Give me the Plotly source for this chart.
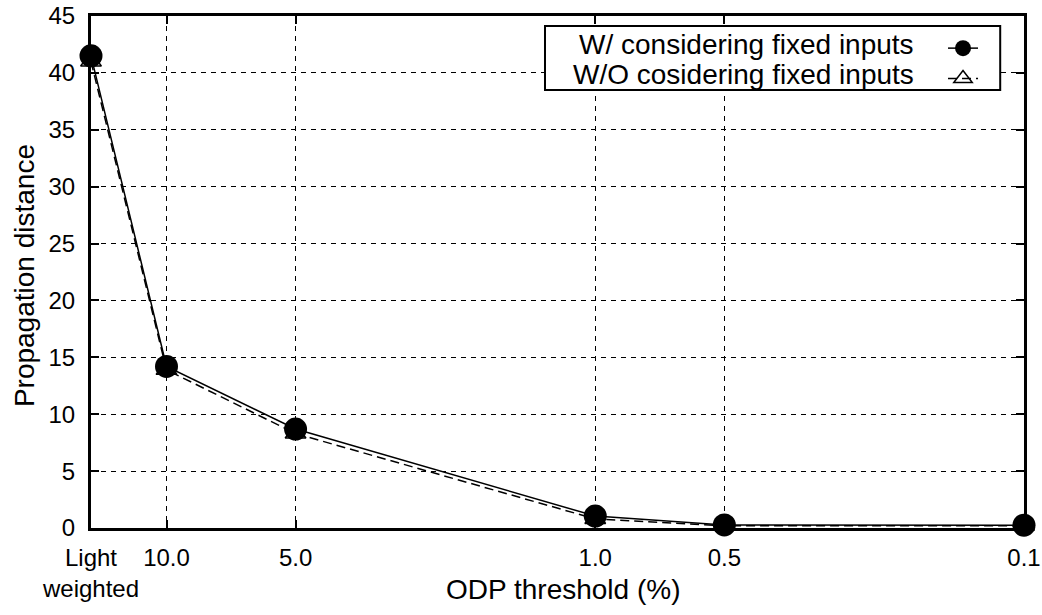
import math
import plotly.graph_objects as go

# ---- data ----
x_labels = ["Light<br>weighted", "10.0", "5.0", "1.0", "0.5", "0.1"]
x_pos = [15, 10, 5, 1, 0.5, 0.1]          # ODP threshold (%) ; "Light weighted" placed at 15
with_fixed = [41.5, 14.2, 8.7, 1.05, 0.27, 0.25]
without_fixed = [41.0, 13.9, 8.3, 0.8, 0.2, 0.2]
y_ticks = [0, 5, 10, 15, 20, 25, 30, 35, 40, 45]
name_with = "W/ considering fixed inputs"
name_without = "W/O cosidering fixed inputs"

FONT = "Liberation Sans, Arial, Helvetica, sans-serif"

fig = go.Figure()
fig.add_trace(go.Scatter(
    x=x_pos, y=without_fixed, mode="lines+markers", name=" ",
    line=dict(color="black", width=1.5, dash="9px,5px"),
    marker=dict(symbol="triangle-up-open", size=18, color="black", line=dict(width=1.5, color="black")),
    cliponaxis=False, legendrank=2,
))
fig.add_trace(go.Scatter(
    x=x_pos, y=with_fixed, mode="lines+markers", name=" ",
    line=dict(color="black", width=1.5),
    marker=dict(symbol="circle", size=23, color="black"),
    cliponaxis=False, legendrank=1,
))

axis_common = dict(
    showline=True, linecolor="black", linewidth=3, mirror="ticks",
    ticks="inside", ticklen=8, tickwidth=2, tickcolor="black",
    showgrid=True, gridcolor="black", gridwidth=1, griddash="5px,5px",
    zeroline=False, tickfont=dict(family=FONT, size=24, color="black"),
)

fig.update_xaxes(type="log", range=[math.log10(x_pos[0]), math.log10(x_pos[-1])],
                 tickmode="array", tickvals=x_pos, ticktext=x_labels,
                 ticklabelstandoff=6, **axis_common)
fig.update_yaxes(range=[0, 45], tickmode="array", tickvals=y_ticks,
                 ticklabelstandoff=8, **axis_common)

# legend box (text on the left, symbols on the right as in the original)
fig.add_shape(type="rect", xref="paper", yref="paper",
              x0=0.4866, x1=0.9745, y0=0.8555, y1=0.9805,
              line=dict(color="black", width=2), fillcolor="white", layer="above")
fig.add_annotation(text=name_with, xref="paper", yref="paper", x=0.884, y=0.9434,
                   xanchor="right", yanchor="middle", showarrow=False,
                   font=dict(family=FONT, size=28, color="black"))
fig.add_annotation(text=name_without, xref="paper", yref="paper", x=0.884, y=0.8848,
                   xanchor="right", yanchor="middle", showarrow=False,
                   font=dict(family=FONT, size=28, color="black"))

# axis titles
fig.add_annotation(text="ODP threshold (%)", xref="paper", yref="paper", x=0.506, y=-0.121,
                   xanchor="center", yanchor="middle", showarrow=False,
                   font=dict(family=FONT, size=28, color="black"))
fig.add_annotation(text="Propagation distance", xref="paper", yref="paper", x=-0.0718, y=0.492,
                   xanchor="center", yanchor="middle", showarrow=False, textangle=-90,
                   font=dict(family=FONT, size=28, color="black"))

fig.update_layout(
    width=1042, height=615,
    margin=dict(l=91, r=18, t=16, b=87, autoexpand=False),
    paper_bgcolor="white", plot_bgcolor="white",
    showlegend=True,
    legend=dict(x=0.9132, y=0.9766, xanchor="left", yanchor="top",
                bgcolor="rgba(0,0,0,0)", borderwidth=0,
                font=dict(family=FONT, size=21), tracegroupgap=0, itemwidth=30),
)

fig.write_html("out.html")
